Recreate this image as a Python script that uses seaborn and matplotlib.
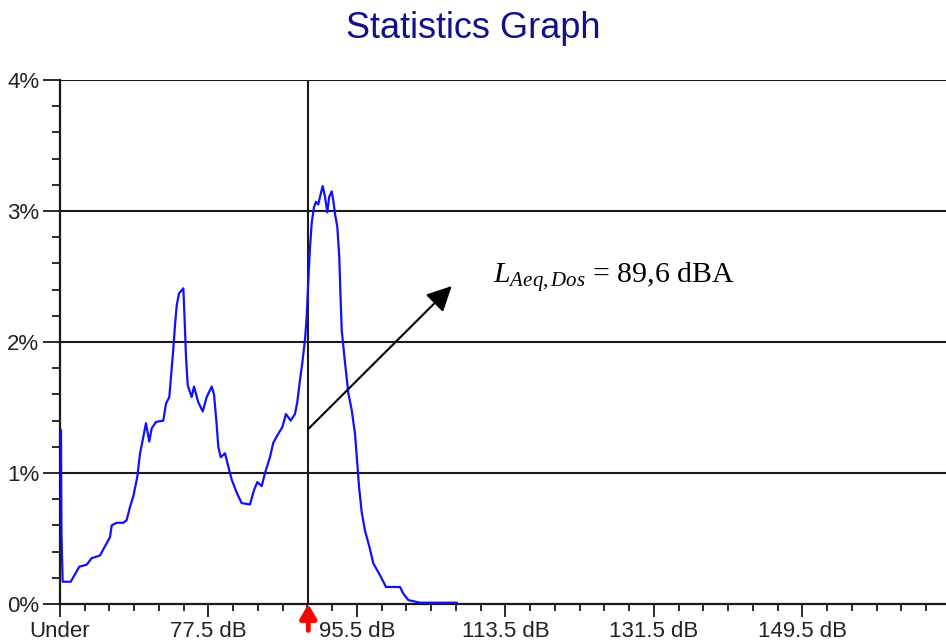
import matplotlib
matplotlib.use("Agg")
import matplotlib.pyplot as plt
import pandas as pd
import seaborn as sns

# Sound level distribution (share of measurement time per level, in %)
level_db = [
    59.62, 59.68, 59.82, 60.80, 61.84, 62.74, 63.34, 64.35, 64.95, 65.56,
    65.77, 66.37, 67.17, 67.58, 67.98, 68.38, 68.87, 69.20, 69.52, 69.92,
    70.32, 70.61, 71.14, 72.02, 72.35, 72.75, 72.92, 73.23, 73.44, 73.65,
    73.92, 74.45, 74.57, 74.77, 74.98, 75.46, 75.74, 76.26, 76.80, 77.28,
    77.89, 78.17, 78.49, 78.69, 78.98, 79.50, 79.90, 80.31, 80.92, 81.52,
    82.53, 83.02, 83.42, 83.95, 84.35, 84.95, 85.35, 85.96, 86.45, 86.89,
    87.46, 87.98, 88.26, 88.59, 88.87, 89.20, 89.40, 89.60, 89.80, 90.01,
    90.29, 90.53, 90.81, 91.02, 91.34, 91.62, 91.90, 92.14, 92.43, 92.63,
    92.83, 93.11, 93.35, 93.52, 93.65, 94.05, 94.45, 94.86, 95.26, 95.54,
    95.74, 96.07, 96.47, 96.99, 97.48, 98.29, 99.02, 99.71, 100.71, 101.11,
    101.72, 103.14, 105.56, 107.62,
]
share_pct = [
    1.33, 0.54, 0.17, 0.17, 0.285, 0.30, 0.35, 0.37, 0.44, 0.51,
    0.60, 0.62, 0.62, 0.64, 0.74, 0.82, 0.97, 1.15, 1.25, 1.38,
    1.24, 1.34, 1.39, 1.40, 1.53, 1.58, 1.71, 1.94, 2.13, 2.28,
    2.37, 2.41, 2.23, 1.89, 1.67, 1.58, 1.66, 1.54, 1.47, 1.58,
    1.66, 1.60, 1.37, 1.20, 1.12, 1.15, 1.05, 0.95, 0.85, 0.77,
    0.76, 0.87, 0.93, 0.90, 1.00, 1.12, 1.23, 1.30, 1.35, 1.45,
    1.40, 1.45, 1.54, 1.71, 1.84, 2.02, 2.19, 2.47, 2.72, 2.91,
    3.03, 3.07, 3.05, 3.11, 3.19, 3.11, 2.99, 3.11, 3.15, 3.08,
    2.98, 2.88, 2.65, 2.32, 2.09, 1.84, 1.61, 1.48, 1.30, 1.07,
    0.90, 0.70, 0.56, 0.44, 0.31, 0.22, 0.13, 0.13, 0.13, 0.08,
    0.03, 0.01, 0.01, 0.01,
]

x_tick_values = [59.5, 77.5, 95.5, 113.5, 131.5, 149.5]
x_tick_labels = ["Under", "77.5 dB", "95.5 dB", "113.5 dB", "131.5 dB", "149.5 dB"]
y_tick_values = [0, 1, 2, 3, 4]
y_tick_labels = ["0%", "1%", "2%", "3%", "4%"]

laeq_db = 89.6
laeq_label = r"$L_{Aeq,Dos}$ = 89,6 dBA"
title_text = "Statistics Graph"

sns.set_theme(style="white")
plt.rcParams["font.family"] = ["Liberation Sans", "DejaVu Sans"]
plt.rcParams["mathtext.fontset"] = "custom"
plt.rcParams["mathtext.rm"] = "Liberation Serif"
plt.rcParams["mathtext.it"] = "Liberation Serif:italic"

df = pd.DataFrame({"level": level_db, "share": share_pct})

fig = plt.figure(figsize=(9.46, 6.44), dpi=100)
fig.patch.set_facecolor("white")
ax = fig.add_axes([60 / 946, 40 / 644, 911.6 / 946, 524 / 644])
ax.set_facecolor("white")

x_min, x_max = 59.5, 170.0
ax.set_xlim(x_min, x_max)
ax.set_ylim(0, 4)

# horizontal reference lines and the LAeq marker line
for yv in y_tick_values[1:]:
    ax.axhline(yv, color="#1a1a1a", lw=1.5, zorder=1)
ax.axvline(laeq_db, color="#1a1a1a", lw=1.5, zorder=1)

sns.lineplot(data=df, x="level", y="share", color="#1010ff", lw=1.6,
             sort=False, estimator=None, ax=ax, zorder=3)

# ticks
ax.set_xticks(x_tick_values)
ax.set_xticklabels(x_tick_labels)
ax.set_xticks([x_min + 3 * i for i in range(37)], minor=True)
ax.set_yticks(y_tick_values)
ax.set_yticklabels(y_tick_labels)
ax.set_yticks([0.2 * i for i in range(21)], minor=True)
ax.tick_params(axis="x", which="major", direction="out", length=9, width=1.3,
               color="#1a1a1a", labelsize=16, labelcolor="#222222", pad=3, bottom=True)
ax.tick_params(axis="x", which="minor", direction="out", length=5, width=1.3,
               color="#1a1a1a", bottom=True)
ax.tick_params(axis="y", which="major", direction="out", length=12, width=1.3,
               color="#1a1a1a", labelsize=16, labelcolor="#222222", pad=3, left=True)
ax.tick_params(axis="y", which="minor", direction="out", length=6, width=1.3,
               color="#1a1a1a", left=True)
ax.set_xlabel("")
ax.set_ylabel("")

for side in ("top", "right"):
    ax.spines[side].set_visible(False)
for side in ("left", "bottom"):
    ax.spines[side].set_color("#1a1a1a")
    ax.spines[side].set_linewidth(1.6)

# LAeq pointer on the level axis
ax.annotate("", xy=(laeq_db, 0), xycoords="data",
            xytext=(0, -19), textcoords="offset points",
            arrowprops=dict(arrowstyle="-|>,head_length=0.6,head_width=0.35",
                            color="#ff0000", lw=3.5, mutation_scale=14,
                            shrinkA=0, shrinkB=0),
            annotation_clip=False, zorder=5)

# arrow and label for the equivalent level
ax.annotate("", xy=(106.98, 2.427), xytext=(laeq_db, 1.336),
            arrowprops=dict(arrowstyle="-|>,head_length=0.4,head_width=0.2",
                            color="black", lw=1.5, mutation_scale=38,
                            shrinkA=0, shrinkB=0), zorder=4)
ax.text(111.98, 2.45, laeq_label, family="Liberation Serif", fontsize=21.5,
        color="black", ha="left", va="baseline", zorder=4)

fig.text(0.5, 1 - 38 / 644, title_text, ha="center", va="baseline",
         fontsize=26, color="#10108a", family="Liberation Sans")

fig.savefig("out.png", dpi=100, facecolor="white")
